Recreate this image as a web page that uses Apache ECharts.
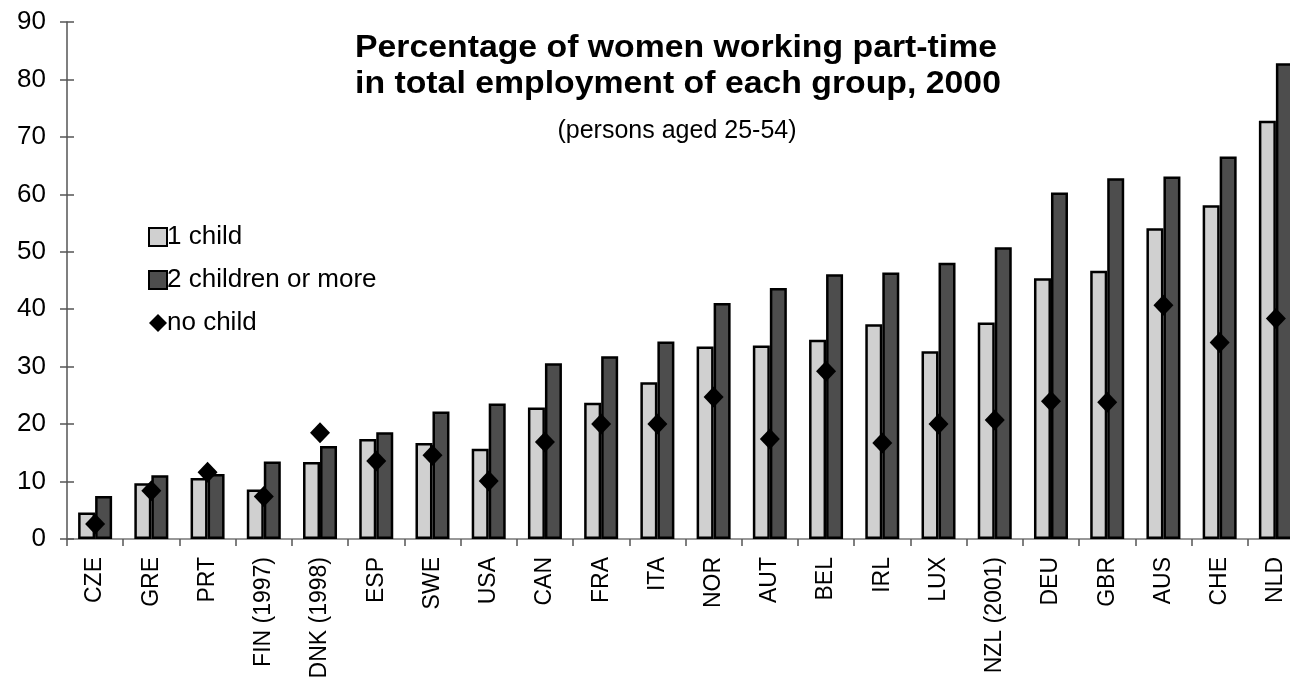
<!DOCTYPE html>
<html>
<head>
<meta charset="utf-8">
<script src="https://cdn.jsdelivr.net/npm/echarts@6/dist/echarts.min.js"></script>
<style>
html,body{margin:0;padding:0;background:#fff;}
#chart{width:1290px;height:681px;}
</style>
</head>
<body>
<div id="chart"></div>
<script>
const categories = ["CZE","GRE","PRT","FIN (1997)","DNK (1998)","ESP","SWE","USA","CAN","FRA","ITA","NOR","AUT","BEL","IRL","LUX","NZL (2001)","DEU","GBR","AUS","CHE","NLD"];
const oneChild = [4.6,9.7,10.6,8.6,13.4,17.4,16.7,15.7,22.9,23.7,27.3,33.5,33.7,34.7,37.4,32.7,37.7,45.4,46.7,54.1,58.1,72.8];
const twoOrMore = [7.5,11.1,11.3,13.5,16.2,18.6,22.2,23.6,30.6,31.8,34.4,41.1,43.7,46.1,46.4,48.1,50.8,60.3,62.8,63.1,66.6,82.8];
const noChild = [2.6,8.4,11.6,7.4,18.5,13.6,14.6,10.1,16.9,20.0,20.0,24.7,17.4,29.2,16.7,20.0,20.7,24.0,23.8,40.7,34.2,38.4];
const yTicks = {min:0, max:90, interval:10};
const titleLines = ['Percentage of women working part-time','in total employment of each group, 2000'];
const subtitle = '(persons aged 25-54)';

const FONT = "'Liberation Sans', Arial, sans-serif";
const chart = echarts.init(document.getElementById('chart'), null, {renderer:'canvas'});
chart.setOption({
  animation:false,
  backgroundColor:'#fff',
  graphic:[
    {type:'text', x:676, y:48, scaleX:1.09, style:{text:titleLines[0], textAlign:'center', textVerticalAlign:'middle', font:"bold 31px " + FONT, fill:'#000'}},
    {type:'text', x:678, y:84, scaleX:1.09, style:{text:titleLines[1], textAlign:'center', textVerticalAlign:'middle', font:"bold 31px " + FONT, fill:'#000'}},
    {type:'text', x:677, y:131, style:{text:subtitle, textAlign:'center', textVerticalAlign:'middle', font:"25px " + FONT, fill:'#000'}}
  ],
  legend:{
    orient:'vertical', left:143, top:219, itemGap:17, itemWidth:18, itemHeight:18,
    textStyle:{fontFamily:FONT, fontSize:26, color:'#000', padding:[0,0,0,-5]},
    data:[{name:'1 child', icon:'rect'},{name:'2 children or more', icon:'rect'},{name:'no child', icon:'diamond'}]
  },
  grid:{left:67, top:22, width:1237, height:517, outerBoundsMode:'none', containLabel:false},
  xAxis:{
    type:'category', data:categories,
    axisLine:{lineStyle:{color:'#777', width:1.5}},
    axisTick:{show:true, length:7, alignWithLabel:false, lineStyle:{color:'#555', width:1.5}},
    axisLabel:{rotate:90, interval:0, fontFamily:FONT, fontSize:23, color:'#000', margin:18}
  },
  yAxis:[{
    type:'value', min:yTicks.min, max:yTicks.max, interval:yTicks.interval,
    splitLine:{show:false},
    axisLine:{show:true, lineStyle:{color:'#555', width:1.5}},
    axisTick:{show:true, length:7, lineStyle:{color:'#555', width:1.5}},
    axisLabel:{fontFamily:FONT, fontSize:26, color:'#000', margin:21}
  },{
    type:'value', min:yTicks.min, max:yTicks.max, interval:yTicks.interval, position:'left',
    splitLine:{show:false}, axisLine:{show:false},
    axisTick:{show:true, inside:true, length:7, lineStyle:{color:'#555', width:1.5}},
    axisLabel:{show:false}
  }],
  series:[
    {name:'1 child', type:'bar', data:oneChild, barWidth:17, barGap:'0%',
     itemStyle:{color:'#d0d0d0', borderColor:'#000', borderWidth:2.5}},
    {name:'2 children or more', type:'bar', data:twoOrMore, barWidth:17, barGap:'0%',
     itemStyle:{color:'#4d4d4d', borderColor:'#000', borderWidth:2.5}},
    {name:'no child', type:'scatter', data:noChild, symbol:'diamond', symbolSize:[20,21], z:5,
     itemStyle:{color:'#000', opacity:1}}
  ]
});
</script>
</body>
</html>
